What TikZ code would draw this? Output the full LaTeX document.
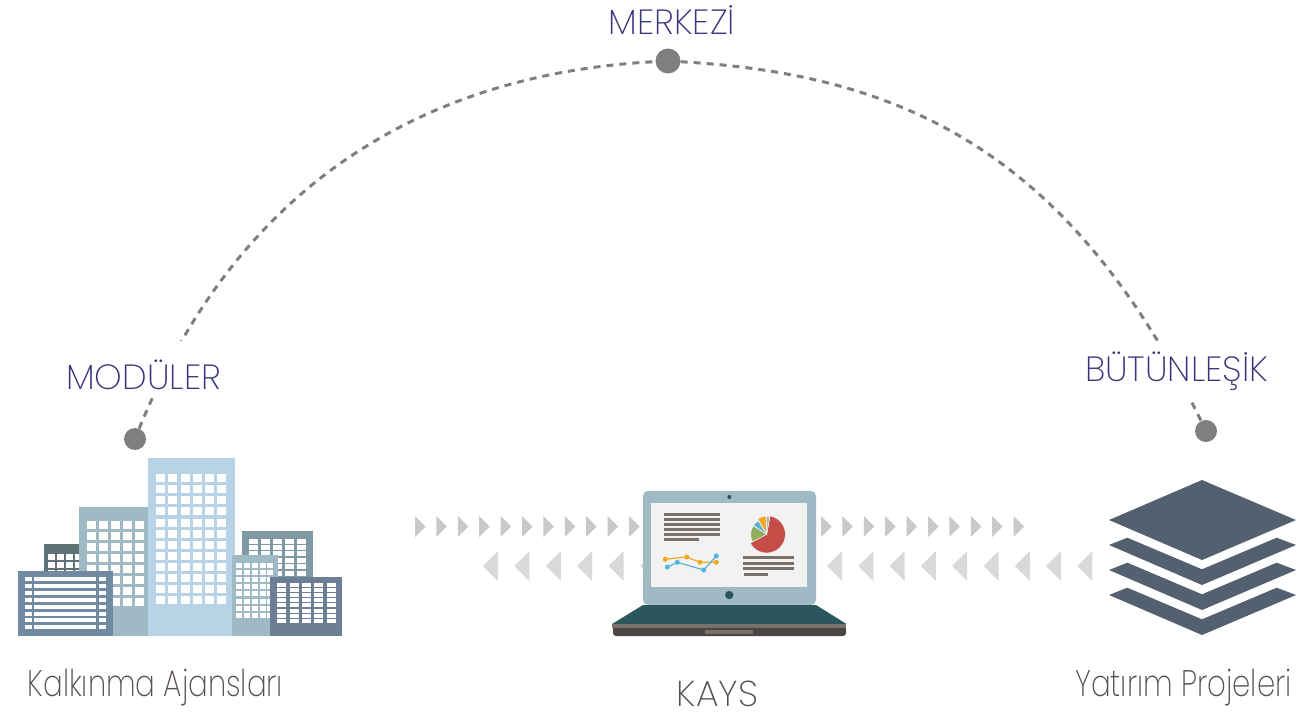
\documentclass[tikz,border=0pt]{standalone}
\usepackage{fontspec}
\setmainfont{Poppins}[UprightFont=* ExtraLight]
\newfontfamily\captionfont{Poppins}[UprightFont=* ExtraLight, FakeStretch=0.79]
\usetikzlibrary{positioning,calc}
\definecolor{arcgray}{HTML}{7f7f7f}
\definecolor{labelblue}{HTML}{38357c}
\definecolor{captiongray}{HTML}{57504c}
\definecolor{towerblue}{HTML}{b8d3e6}
\definecolor{midblue}{HTML}{9fb9c5}
\definecolor{slate}{HTML}{728aa1}
\definecolor{darkslate}{HTML}{6c7f94}
\definecolor{graygreen}{HTML}{7f9aa2}
\definecolor{darkgreen}{HTML}{5f7278}
\definecolor{stackblue}{HTML}{52606f}
\definecolor{laptopteal}{HTML}{2a565c}
\definecolor{laptopgray}{HTML}{78716c}
\definecolor{laptopdark}{HTML}{4a4543}
\definecolor{piered}{HTML}{c44d47}
\definecolor{piegreen}{HTML}{93ab5d}
\definecolor{pieblue}{HTML}{58b3d9}
\definecolor{pieorange}{HTML}{f0a91e}
\definecolor{piegray}{HTML}{b5b5b5}
\tikzset{
  dotnode/.style={circle, fill=arcgray, minimum size=25pt, inner sep=0pt},
  smalldot/.style={dotnode, minimum size=22pt},
  arcline/.style={draw=arcgray, line width=3pt, dash pattern=on 7pt off 6pt},
  toplabel/.style={text=labelblue, font=\fontsize{35}{35}\selectfont, inner sep=0pt},
  caption/.style={text=captiongray, font=\captionfont\fontsize{37}{37}\selectfont, inner sep=0pt},
  rightarrow/.style={fill=black!21},
  leftarrow/.style={fill=black!15},
  window/.style={fill=white},
}
\begin{document}
\begin{tikzpicture}[x=1pt,y=-1pt]
   \useasboundingbox (0,0) rectangle (1297,715);
   \node[smalldot] (modular) at (135,439) {};
   \node[dotnode] (central) at (668,61) {};
   \node[smalldot] (integrated) at (1206,431) {};
   \draw[arcline] (modular) .. controls (248,160) and (455,72) .. (central);
   \draw[arcline] (central) .. controls (895,74) and (1067,146) .. (integrated);
   \fill[white] (60,341) rectangle (230,398);
   \fill[white] (1080,341) rectangle (1275,400);
   \node[toplabel] (modularlabel) at (143.5,374.5) {MODÜLER};
   \node[toplabel] (centrallabel) at (672,20.5) {MERKEZİ};
   \node[toplabel] (integratedlabel) at (1176.5,371.5) {BÜTÜNLEŞİK};
   % arrows
   \foreach \x in {0,...,10}
     \fill[rightarrow] ({415+21.4*\x},516) -- ++(10.5,10.5) -- ++(-10.5,10.5) -- cycle;
   \foreach \x in {0,...,9}
     \fill[rightarrow] ({821+21.4*\x},516) -- ++(10.5,10.5) -- ++(-10.5,10.5) -- cycle;
   \foreach \x in {0,...,5}
     \fill[leftarrow] ({483+31.4*\x},566) -- ++(15,-15) -- ++(0,30) -- cycle;
   \foreach \x in {0,...,8}
     \fill[leftarrow] ({827+31.3*\x},566) -- ++(15,-15) -- ++(0,30) -- cycle;
   % buildings
   \fill[darkgreen] (44,544) rectangle (80,575);
   \foreach \x in {48,57,66,75} \foreach \y in {554,562,570}
     \fill[window] (\x,\y) rectangle ++(7,6);
   \fill[graygreen] (242,531) rectangle (313,580);
   \foreach \x in {249,261,273,285,297} \foreach \y in {539,545,551,558,564,571}
     \fill[window] (\x,\y) rectangle ++(9,4.5);
   \fill[midblue] (79,507) rectangle (151,636);
   \foreach \x in {87,99,111,123,135} \foreach \y in {521,532,543,554,565,576,587,598}
     \fill[window] (\x,\y) rectangle ++(9,8);
   \fill[towerblue] (148,458) rectangle (235,636);
   \foreach \x in {156,168,181,193,205,217} \foreach \y in {474,485,496,507,519,530,541,552,563,574,585,596}
     \fill[window] (\x,\y) rectangle ++(9,8);
   \fill[slate] (18,571) rectangle (113,636);
   \foreach \y in {577,584,591,598,605,612,618,625} {
     \fill[window] (25,\y) rectangle ++(7,4);
     \fill[window] (34,\y) rectangle ++(62,4);
     \fill[window] (99,\y) rectangle ++(7,4);
   }
   \fill[midblue] (232,555) rectangle (278,636);
   \foreach \x in {236,244,252,260,267} \foreach \y in {563,570,577,584,591,599,606,613}
     \fill[window] (\x,\y) rectangle ++(6,5);
   \fill[darkslate] (270,577) rectangle (342,636);
   \foreach \x in {277,290,302,314,327} \foreach \y in {583,588,593,598,603,609,614,619}
     \fill[window] (\x,\y) rectangle ++(9,4);
   % laptop
   \fill[midblue, rounded corners=5pt] (643,491) rectangle (816,605);
   \fill[black!5] (651,503) rectangle (807,587);
   \fill[laptopteal] (729.3,497) circle (2);
   \fill[laptopteal] (729.3,595) circle (4.2);
   \fill[laptopteal] (643,605) -- (816,605) -- (846.5,624) -- (612,624) -- cycle;
   \fill[laptopdark, rounded corners=3pt] (613,626) rectangle (846,636);
   \fill[laptopgray] (612,624) rectangle (846,628);
   \fill[laptopgray] (705,630) rectangle (753,634);
   \foreach \y in {513,518,523,528,533}
     \fill[laptopgray] (664,\y) rectangle (720,\y+3);
   \fill[laptopgray] (664,538) rectangle (699,541);
   \foreach \y in {556,562,567}
     \fill[laptopgray] (743,\y) rectangle (794,\y+3);
   \fill[laptopgray] (744,573) rectangle (768,576);
   \begin{scope}[shift={(766.7,534.3)},y=1pt]
     \foreach \from/\to/\radius/\slice in {80/-152/18.7/piered, 208/148/16/piegreen, 146/122/16/pieblue, 120/92/18/pieorange, 90/80/18/piegray}
       \fill[fill=\slice, draw=black!5, line width=0.5pt] (0,0) -- (\from:\radius) arc (\from:\to:\radius) -- cycle;
   \end{scope}
   \draw[pieorange, line width=1.2pt] (665.3,559.3) -- (686.7,557) -- (700,562.3) -- (716.3,562.3);
   \foreach \p in {(665.3,559.3),(686.7,557),(700,562.3),(716.3,562.3)}
     \fill[pieorange] \p circle (2.5);
   \draw[pieblue, line width=1.2pt] (667.3,567) -- (677.3,562.3) -- (703.7,570) -- (716.3,556);
   \foreach \p in {(667.3,567),(677.3,562.3),(703.7,570),(716.3,556)}
     \fill[pieblue] \p circle (2.5);
   % stack
   \foreach \y in {0,25,50}
     \fill[stackblue] (1109,545+\y) -- (1127.3,537.7+\y) -- (1202,569.3+\y) -- (1276.7,537.7+\y) -- (1296,545+\y) -- (1202,585+\y) -- cycle;
   \fill[stackblue] (1202,480) -- (1296,520) -- (1202,560) -- (1109,520) -- cycle;
   % captions
   \node[caption] (agencies) at (155.5,687.5) {Kalkınma Ajansları};
   \node[caption, font=\fontsize{36}{36}\selectfont] (kays) at (717.5,693.5) {KAYS};
   \node[caption] (projects) at (1183.5,687.5) {Yatırım Projeleri};
\end{tikzpicture}
\end{document}
